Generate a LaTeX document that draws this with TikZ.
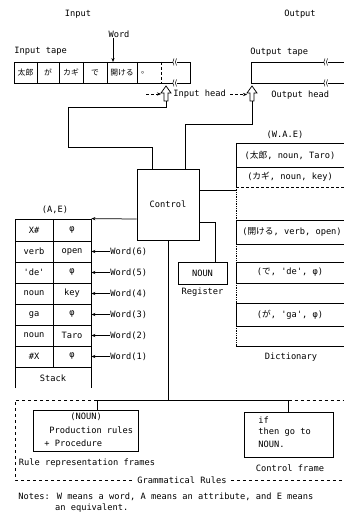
\documentclass[tikz,border=0pt]{standalone}
\usepackage{fontspec}
\setmainfont{DejaVu Sans Mono}[Ligatures=TeXOff]
\newfontfamily\jp{Noto Sans CJK JP}
\usetikzlibrary{arrows.meta,calc}
\newcommand\J[1]{{\jp #1}}
\begin{document}
\begin{tikzpicture}[x=1pt,y=-1pt, line width=0.75pt,
  every node/.style={font=\fontsize{8.7}{10}\selectfont, inner sep=0pt},
  box/.style={draw, inner sep=0pt},
  arr/.style={-{Stealth[length=4pt,width=3.2pt]}},
  jpt/.style={font=\fontsize{7.8}{9}\jp},
  brk/.pic={\draw[line width=0.5pt] (0,-3.5) .. controls (-1.5,-1.5) and (-1.5,1.5) .. (0,3.5);
            \draw[line width=0.5pt] (2.5,-3.5) .. controls (1,-1.5) and (1,1.5) .. (2.5,3.5);},
  harrow/.pic={\draw[fill=white, line width=0.75pt] (0,0) -- (5,7) -- (2,7) -- (2,15) -- (-2,15) -- (-2,7) -- (-5,7) -- cycle;
               \coordinate (-bot) at (0,15); \coordinate (-left) at (-5,7);}]
\useasboundingbox (0,0) rectangle (344,518);

% ---------- top labels
\node (tin) at (78,14) {Input};
\node (tout) at (300,14) {Output};
\node (word) at (119,34) {Word};
\node[anchor=west] (itl) at (14,51) {Input tape};
\node[anchor=west] (otl) at (250,52) {Output tape};

% ---------- input tape
\draw (173,62) -- (14,62) -- (14,83) -- (173,83);
\draw (177,62) -- (190,62) -- (190,83) -- (177,83);
\pic at (174,62) {brk};
\pic at (174,83) {brk};
\foreach \x in {37,59,83,107,137} \draw (\x,62) -- (\x,83);
\draw[densely dashed] (161,62) -- (161,83);
\node[jpt] (c1) at (25.5,72.5) {太郎};
\node[jpt] (c2) at (48,72.5) {が};
\node[jpt] (c3) at (71,72.5) {カギ};
\node[jpt] (c4) at (95,72.5) {で};
\node[jpt] (c5) at (122,72.5) {開ける};
\node[jpt] (c6) at (145,72.5) {。};
\coordinate (wtip) at (113,62);
\draw[arr] (wtip |- word.south) -- (wtip);

% ---------- output tape
\draw (324,62) -- (251,62) -- (251,83) -- (324,83);
\draw (328,62) -- (344,62);
\draw (328,83) -- (344,83);
\pic at (325,62) {brk};
\pic at (325,83) {brk};

% ---------- heads
\pic (ih) at (166,86) {harrow};
\pic (oh) at (252,86) {harrow};
\node[anchor=west] (ihl) at (173,94.5) {Input head};
\node[anchor=west] (ohl) at (271,95) {Output head};
\coordinate (iha) at (146,94);
\draw[arr, densely dashed, line width=0.5pt] (iha) -- (iha -| ih-left);
\draw[arr, densely dashed, line width=0.5pt] ($(ihl.east)+(4,0)$) -- (ihl.east -| oh-left);

% ---------- control
\node[box, minimum width=62pt, minimum height=71pt] (control) at (168,204.5) {Control};
\coordinate (ib1) at (68,107);
\coordinate (ib2) at (152,147);
\draw (ih-bot) |- (ib1) |- (ib2) -- (ib2 |- control.north);
\coordinate (ob1) at (185,124);
\draw (oh-bot) |- (ob1) -- (ob1 |- control.north);

% ---------- dictionary
\node (wae) at (285,135) {(W.A.E)};
\node[minimum width=108pt, minimum height=203pt] (dict) at (290,244.5) {};
\foreach \y in {143,167,220,244,262,283,303,326,346} \draw (236,\y) -- (344,\y);
\draw[densely dashed] (236,187) -- (344,187);
\draw (236,143) -- (236,187);
\draw (236,220) -- (236,244);
\draw (236,262) -- (236,283);
\draw (236,303) -- (236,326);
\draw[densely dotted] (236,187) -- (236,220);
\draw[densely dotted] (236,244) -- (236,262);
\draw[densely dotted] (236,283) -- (236,303);
\draw[densely dotted] (236,326) -- (236,346);
\node (d1) at (290,155) {(\J{太郎}, noun, Taro)};
\node (d2) at (290,177) {(\J{カギ}, noun, key)};
\node (d3) at (292,232) {(\J{開ける}, verb, open)};
\node (d4) at (290,272.5) {(\J{で}, 'de', φ)};
\node (d5) at (290,314.5) {(\J{が}, 'ga', φ)};
\node (dlab) at (291,357) {Dictionary};
\coordinate (cd) at ($(control.east)+(0,-14.5)$);
\draw (cd) -- (cd -| dict.west);

% ---------- register
\node[box, minimum width=49pt, minimum height=22pt] (reg) at (202.5,273) {NOUN};
\node (reglab) at (202.5,292) {Register};
\coordinate (cr) at ($(control.east)+(0,17.5)$);
\draw (cr) -| ($(reg.north)+(12.5,0)$);

% ---------- stack
\node (ae) at (55,210) {(A,E)};
\node[minimum width=76pt, minimum height=169pt] (stack) at (53,303.5) {};
\draw (15,388) -- (15,219) -- (91,219) -- (91,388);
\foreach \y in {241,262,283,304,325,346,367} \draw (15,\y) -- (91,\y);
\draw (53,219) -- (53,367);
\foreach \a/\b/\y in {X\#/φ/230, verb/open/251.5, 'de'/φ/272.5, noun/key/293.5, ga/φ/314.5, noun/Taro/335.5, \#X/φ/356.5}
  {\node at (34,\y) {\a}; \node at (72,\y) {\b};}
\node (stlab) at (53,378) {Stack};
\draw[arr] ($(control.west)+(0,14.5)$) -- (stack.north east);
\foreach \n/\y in {6/251.5, 5/272.5, 4/293.5, 3/314.5, 2/335.5, 1/356.5}
  {\node[anchor=west] (w\n) at (110,\y) {Word(\n)};
   \draw[arr] (w\n.west) -- (w\n.west -| stack.east);}

% ---------- grammatical rules
\coordinate (gl) at (15,400);
\node[box, minimum width=105pt, minimum height=41pt] (prod) at (85.5,430.5) {};
\node[anchor=west] at (70,417) {(NOUN)};
\node[anchor=west] at (49,430) {Production rules};
\node[anchor=west] at (44,443) {+ Procedure};
\node (rrf) at (87,463) {Rule representation frames};
\node[box, minimum width=89pt, minimum height=45pt] (cf) at (288.5,434.5) {};
\node[anchor=west] at (258,420) {if};
\node[anchor=west] at (258,432) {then go to};
\node[anchor=west] at (258,444) {NOUN.};
\node (cflab) at (290,468) {Control frame};
\draw (control.south) -- (control.south |- gl);
\coordinate (pj) at ($(prod.north)+(11.5,0)$);
\draw (pj) |- (cf.north |- gl) -- (cf.north);
\node (gr) at (182,480) {Grammatical Rules};
\draw[dashed] (pj |- gl) -- (gl) -- (15,480) -- ($(gr.west)+(-4,0)$);
\draw[dashed] ($(gr.east)+(4,0)$) -- (344,480);
\draw[dashed] (cf.north |- gl) -- (344,400);

% ---------- notes
\node[anchor=west] (n1) at (18,497) {Notes: W means a word, A means an attribute, and E means};
\node[anchor=west] (n2) at (54.7,508) {an equivalent.};
\end{tikzpicture}
\end{document}
